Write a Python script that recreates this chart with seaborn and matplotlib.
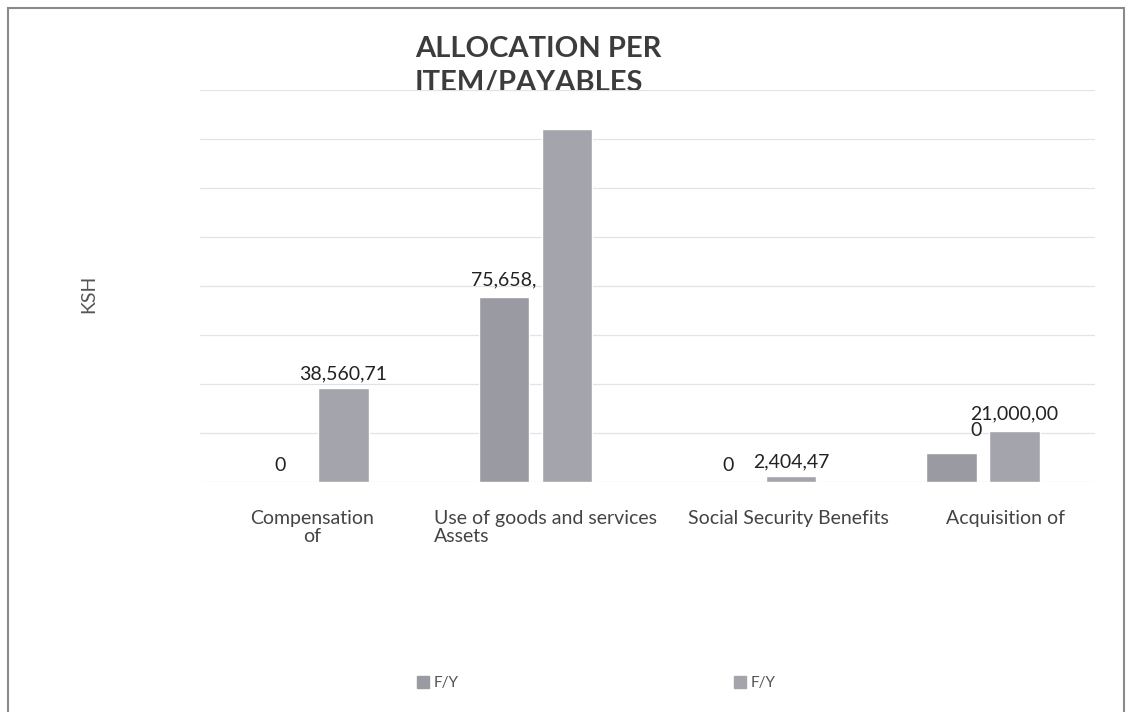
import pandas as pd
import matplotlib.pyplot as plt
import matplotlib.patches as mpatches
import matplotlib.transforms as mtransforms
from matplotlib.lines import Line2D
import seaborn as sns

# data (KSH)
categories = ["Compensation\nof", "Use of goods and services\nAssets",
              "Social Security Benefits", "Acquisition of"]
series = ["F/Y 1", "F/Y 2"]
values_fy1 = [0, 75658000, 0, 12000000]
values_fy2 = [38560710, 144000000, 2404470, 21000000]
labels_fy1 = ["0", "75,658,", "0", ""]
labels_fy2 = ["38,560,71", "", "2,404,47", "21,000,00\n0"]
legend_labels = ["F/Y", "F/Y"]

df = pd.DataFrame({
    "item": categories * 2,
    "series": [series[0]] * 4 + [series[1]] * 4,
    "value": values_fy1 + values_fy2,
})

sns.set_style("white")
plt.rcParams['font.family'] = ['Lato', 'DejaVu Sans']
GREY1 = '#9a9aa2'
GREY2 = '#a4a4ac'
TXT = '#3c3c3c'

fig = plt.figure(figsize=(11.28, 7.12), dpi=100)
ax = fig.add_axes([200 / 1128, 1 - 482 / 712, 895 / 1128, 392 / 712])

sns.barplot(data=df, x="item", y="value", hue="series", palette=[GREY1, GREY2],
            width=0.5625, gap=0.2, ax=ax, legend=False, saturation=1)

ax.set_ylim(0, 160000000)
ax.set_xlim(-0.5, 3.5)
ax.set_yticks(range(0, 160000001, 20000000))
ax.set_yticklabels([])
ax.tick_params(axis='y', length=0)
ax.tick_params(axis='x', length=0, pad=20, labelsize=14, labelcolor='#444444')
ax.grid(axis='y', color='#e2e2ea', linewidth=0.9)
ax.set_axisbelow(True)
for s in ax.spines.values():
    s.set_visible(False)
ax.set_xlabel("")
ax.set_ylabel("KSH", fontsize=14, color='#555555')
ax.yaxis.set_label_coords(-(200 - 97) / 895, 0.48)

# the category labels in the original sit a little right of their bars
shifts = [0, 10, 29, 22]
for lab, dx in zip(ax.get_xticklabels(), shifts):
    lab.set_linespacing(1.08)
    if lab.get_text().startswith("Use of"):
        lab.set_multialignment('left')
    lab.set_transform(lab.get_transform() + mtransforms.ScaledTranslation(dx / 100, 0, fig.dpi_scale_trans))

ax.bar_label(ax.containers[0], labels=labels_fy1, padding=6, fontsize=14, color='#222222')
ax.bar_label(ax.containers[1], labels=labels_fy2[:3] + [""], padding=4, fontsize=14, color='#222222')
ax.bar_label(ax.containers[1], labels=["", "", "", labels_fy2[3]], padding=-6, fontsize=14,
             color='#222222', multialignment='left', linespacing=0.95)

# title sits partly behind the plot area, like the original
fig.text(415 / 1128, 1 - 36 / 712, "ALLOCATION PER\nITEM/PAYABLES", ha='left', va='top',
         fontsize=21, fontweight='bold', color=TXT, linespacing=1.38, zorder=-1)

handles = [Line2D([0], [0], marker='s', linestyle='', markersize=8, color=c) for c in [GREY1, GREY2]]
fig.legend(handles, legend_labels, loc='center', bbox_to_anchor=(596 / 1128, 1 - 683 / 712),
           ncol=2, frameon=False, fontsize=11, labelcolor='#555555', columnspacing=18,
           handlelength=0.8, handletextpad=0.3)

fig.patches.append(mpatches.Rectangle((8 / 1128, -0.05), 1116 / 1128, 1.05 - 8 / 712,
                                      transform=fig.transFigure, fill=False,
                                      edgecolor='#8a8a8a', linewidth=1.5))

fig.savefig("out.png", dpi=100, facecolor='white')
